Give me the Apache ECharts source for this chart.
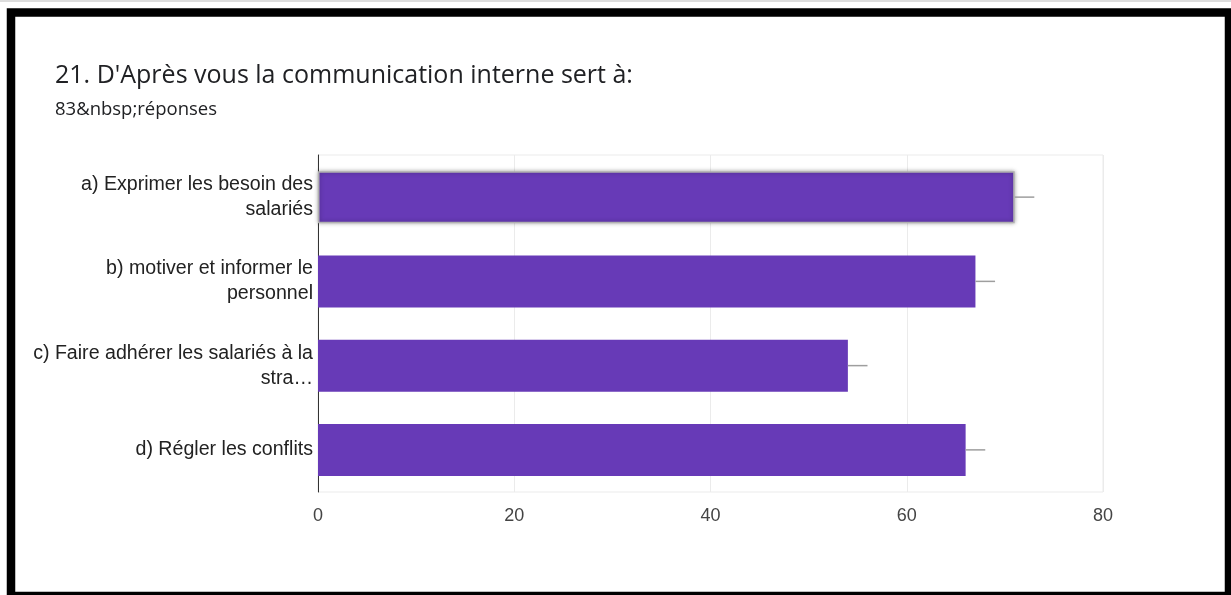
<!DOCTYPE html>
<html><head><meta charset="utf-8">
<script src="https://cdn.jsdelivr.net/npm/echarts@6/dist/echarts.min.js"></script>
<style>html,body{margin:0;padding:0;background:#fff}#c{width:1231px;height:595px}</style>
</head><body><div id="c"></div>
<script>
const titleText = "21. D'Après vous la communication interne sert à:";
const subtitleText = "83&nbsp;réponses";
const categories = [
  "a) Exprimer les besoin des\nsalariés",
  "b) motiver et informer le\npersonnel",
  "c) Faire adhérer les salariés à la\nstra…",
  "d) Régler les conflits"
];
const values = [71, 67, 54, 66];
const errorEnds = [73, 69, 56, 68];
const xTicks = [0, 20, 40, 60, 80];

const chart = echarts.init(document.getElementById('c'));
chart.setOption({
  animation: false,
  backgroundColor: '#fff',
  title: [
    {text: titleText, left: 50, top: 58, textStyle: {fontFamily: 'Open Sans', fontSize: 25, fontWeight: 'normal', color: '#202124'}},
    {text: subtitleText, left: 50, top: 95, textStyle: {fontFamily: 'Open Sans', fontSize: 18.5, fontWeight: 'normal', color: '#202124'}}
  ],
  graphic: [
    {type: 'rect', silent: true, z: 100, shape: {x: 11, y: 12.5, width: 1218, height: 583.5}, style: {fill: 'none', stroke: '#000', lineWidth: 8.5}},
    {type: 'rect', silent: true, z: 100, shape: {x: 0, y: 0, width: 1231, height: 2}, style: {fill: '#ddd'}}
  ],
  grid: {left: 318, right: 128, top: 155, bottom: 103, show: true, borderColor: '#ebebeb', borderWidth: 1},
  xAxis: {
    type: 'value', min: xTicks[0], max: xTicks[xTicks.length - 1], interval: 20,
    axisLine: {show: false}, axisTick: {show: false},
    splitLine: {show: true, lineStyle: {color: '#ebebeb', width: 1}},
    axisLabel: {fontFamily: 'Liberation Sans', fontSize: 18, color: '#444', margin: 15}
  },
  yAxis: {
    type: 'category', data: categories, inverse: true,
    axisLine: {show: true, lineStyle: {color: '#333', width: 1}},
    axisTick: {show: false},
    axisLabel: {fontFamily: 'Liberation Sans', fontSize: 19.6, color: '#222', margin: 5, lineHeight: 25, align: 'right'}
  },
  series: [
    {
      type: 'bar', barWidth: 52,
      data: values.map((v, i) => i === 0 ? {value: v, itemStyle: {borderColor: '#b0b0b0', borderWidth: 1.5, shadowBlur: 4, shadowColor: 'rgba(0,0,0,0.35)'}} : v),
      itemStyle: {color: '#673ab7'}
    },
    {
      type: 'custom',
      data: values.map((v, i) => [v, i, errorEnds[i]]),
      renderItem: function (params, api) {
        const a = api.coord([api.value(0), api.value(1)]);
        const b = api.coord([api.value(2), api.value(1)]);
        return {type: 'line', shape: {x1: a[0], y1: a[1], x2: b[0], y2: b[1]}, style: {stroke: '#9e9e9e', lineWidth: 1.5}};
      },
      z: 3
    }
  ]
});
</script></body></html>
